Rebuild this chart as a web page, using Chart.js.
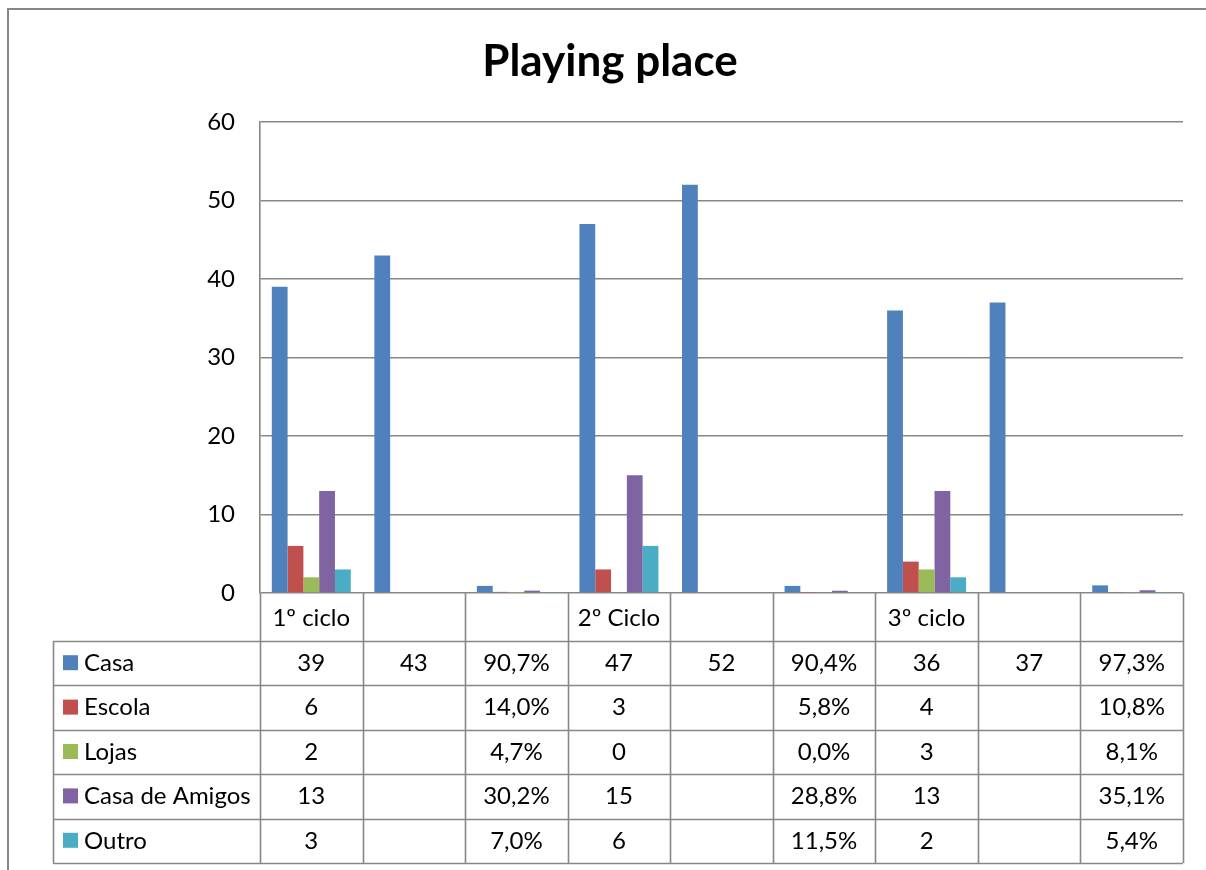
<!DOCTYPE html>
<html>
<head>
<meta charset="utf-8">
<script src="https://cdn.jsdelivr.net/npm/chart.js@4.4.1/dist/chart.umd.min.js"></script>
<style>
  html, body { margin: 0; padding: 0; background: #ffffff; }
  #wrap { width: 1206px; height: 870px; position: relative; }
</style>
</head>
<body>
<div id="wrap"><canvas id="c" width="1206" height="870"></canvas></div>
<script>
// ---- data ----
const categories = ['1º ciclo', '', '', '2º Ciclo', '', '', '3º ciclo', '', ''];
// 'n' = count, 'p' = share (shown as percentage in the table)
const columnFormats = ['n', 'n', 'p', 'n', 'n', 'p', 'n', 'n', 'p'];
const seriesNames = ['Casa', 'Escola', 'Lojas', 'Casa de Amigos', 'Outro'];
const casa         = [39, 43, 0.907, 47, 52, 0.904, 36, 37, 0.973];
const escola       = [6, null, 0.140, 3, null, 0.058, 4, null, 0.108];
const lojas        = [2, null, 0.047, 0, null, 0.000, 3, null, 0.081];
const casaDeAmigos = [13, null, 0.302, 15, null, 0.288, 13, null, 0.351];
const outro        = [3, null, 0.070, 6, null, 0.115, 2, null, 0.054];
const yTicks = [0, 10, 20, 30, 40, 50, 60];
const chartTitle = 'Playing place';

const seriesValues = [casa, escola, lojas, casaDeAmigos, outro];
const seriesColors = ['#4F81BD', '#C0504D', '#9BBB59', '#8064A2', '#4BACC6'];

const FONT = 'Lato, "Open Sans", sans-serif';
const LINE = '#878787';

function fmt(v, f) {
  if (v === null || v === undefined) return '';
  if (f === 'p') return (v * 100).toFixed(1).replace('.', ',') + '%';
  return String(v);
}

const tablePlugin = {
  id: 'dataTable',
  beforeDraw(chart) {
    const ctx = chart.ctx;
    ctx.save();
    ctx.fillStyle = '#ffffff';
    ctx.fillRect(0, 0, chart.width, chart.height);
    ctx.strokeStyle = LINE;
    ctx.lineWidth = 2;
    ctx.strokeRect(8, 9, chart.width + 20, chart.height + 20);
    ctx.restore();
  },
  afterDraw(chart) {
    const ctx = chart.ctx;
    const area = chart.chartArea;
    const x = chart.scales.x;
    const n = categories.length;
    const colW = (area.right - area.left) / n;
    const headerTop = area.bottom;
    const headerH = 48;
    const rowH = 44.4;
    const tableLeft = 53;
    const rowsTop = headerTop + headerH;
    const tableBottom = rowsTop + rowH * seriesNames.length;

    ctx.save();
    ctx.strokeStyle = LINE;
    ctx.lineWidth = 1.6;
    for (let i = 0; i <= n; i++) {
      const px = Math.round(x.getPixelForValue(Math.min(i, n - 1)) + (i === n ? colW / 2 : -colW / 2)) + 0.5;
      ctx.beginPath();
      ctx.moveTo(px, headerTop);
      ctx.lineTo(px, tableBottom);
      ctx.stroke();
    }
    ctx.beginPath();
    ctx.moveTo(tableLeft + 0.5, rowsTop);
    ctx.lineTo(tableLeft + 0.5, tableBottom);
    ctx.stroke();
    for (let r = 0; r <= seriesNames.length; r++) {
      const py = Math.round(rowsTop + r * rowH) + 0.5;
      ctx.beginPath();
      ctx.moveTo(tableLeft, py);
      ctx.lineTo(area.right, py);
      ctx.stroke();
    }

    ctx.fillStyle = '#000000';
    ctx.font = '24px ' + FONT;
    ctx.textBaseline = 'middle';
    ctx.textAlign = 'center';
    for (let i = 0; i < n; i++) {
      ctx.fillText(categories[i], x.getPixelForValue(i), headerTop + headerH / 2 + 1);
    }
    for (let r = 0; r < seriesNames.length; r++) {
      const cy = rowsTop + r * rowH + rowH / 2;
      ctx.fillStyle = seriesColors[r];
      ctx.fillRect(tableLeft + 10, cy - 8, 15, 15);
      ctx.fillStyle = '#000000';
      ctx.textAlign = 'left';
      ctx.fillText(seriesNames[r], tableLeft + 31, cy);
      ctx.textAlign = 'center';
      for (let i = 0; i < n; i++) {
        ctx.fillText(fmt(seriesValues[r][i], columnFormats[i]), x.getPixelForValue(i), cy);
      }
    }
    ctx.restore();
  }
};

new Chart(document.getElementById('c'), {
  type: 'bar',
  data: {
    labels: categories,
    datasets: seriesNames.map((name, k) => ({
      label: name,
      data: seriesValues[k],
      backgroundColor: seriesColors[k],
      borderWidth: 0,
      categoryPercentage: 0.77,
      barPercentage: 1.0
    }))
  },
  options: {
    responsive: false,
    animation: false,
    devicePixelRatio: 1,
    layout: { padding: { left: 37, right: 23, top: 0, bottom: 277 } },
    plugins: {
      legend: { display: false },
      tooltip: { enabled: false },
      title: {
        display: true,
        text: chartTitle,
        color: '#000000',
        font: { family: FONT, size: 44, weight: 'bold' },
        padding: { top: 35.6, bottom: 33.6 }
      }
    },
    scales: {
      x: { display: false },
      y: {
        min: 0,
        max: 60,
        afterBuildTicks(scale) { scale.ticks = yTicks.map(v => ({ value: v })); },
        afterFit(scale) { scale.width = 223; },
        ticks: {
          color: '#000000',
          font: { family: FONT, size: 24 },
          padding: 25
        },
        grid: { color: LINE, lineWidth: 1.6, drawTicks: false },
        border: { display: true, color: LINE, width: 1.6 }
      }
    }
  },
  plugins: [tablePlugin]
});
</script>
</body>
</html>
